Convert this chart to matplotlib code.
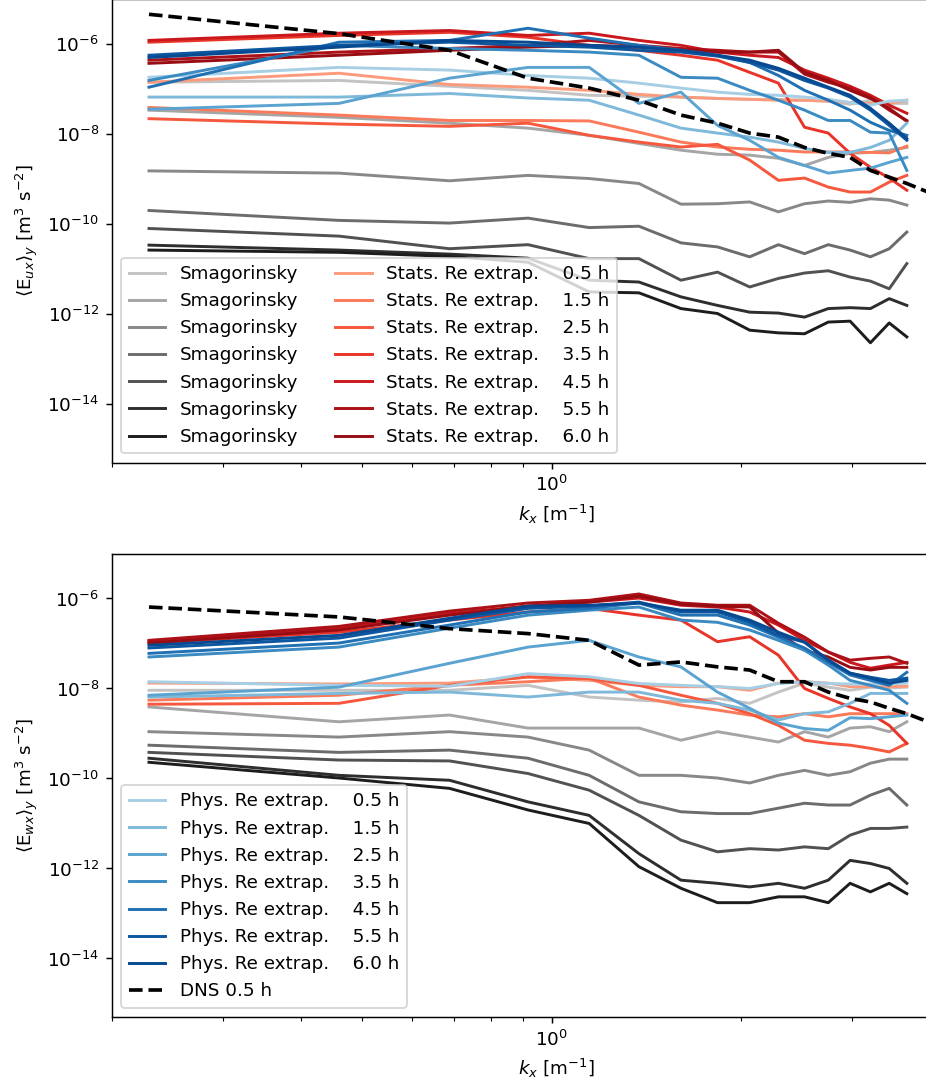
import matplotlib
matplotlib.use("Agg")
import matplotlib.pyplot as plt
import numpy as np

# wavenumbers (LES grid) and the DNS spectrum, which runs a bit further
k = [0.229, 0.459, 0.688, 0.917, 1.147, 1.376, 1.605, 1.835,
     2.064, 2.293, 2.523, 2.752, 2.981, 3.211, 3.440, 3.669]
k_dns = k + [3.898, 4.128]

times = [0.5, 1.5, 2.5, 3.5, 4.5, 5.5, 6.0]

# spectra, stored as log10 of <E>_y
ux_smag = [
    [-6.85, -6.81, -6.94, -7.03, -7.14, -7.16, -7.18, -7.21, -7.23, -7.23, -7.25, -7.27, -7.34, -7.25, -7.32, -7.32],
    [-7.47, -7.63, -7.76, -7.87, -8.03, -8.21, -8.36, -8.45, -8.47, -8.54, -8.70, -8.52, -8.43, -8.41, -8.36, -8.30],
    [-8.82, -8.87, -9.04, -8.92, -8.99, -9.10, -9.56, -9.55, -9.51, -9.73, -9.55, -9.49, -9.52, -9.44, -9.47, -9.58],
    [-9.70, -9.92, -9.98, -9.87, -10.08, -10.05, -10.42, -10.51, -10.73, -10.46, -10.66, -10.46, -10.58, -10.73, -10.55, -10.18],
    [-10.10, -10.27, -10.55, -10.46, -10.77, -10.77, -11.25, -11.07, -11.40, -11.21, -11.09, -11.04, -11.18, -11.27, -11.44, -10.88],
    [-10.47, -10.58, -10.67, -10.76, -11.25, -11.29, -11.62, -11.81, -11.96, -11.98, -12.07, -11.88, -11.86, -11.88, -11.66, -11.81],
    [-10.58, -10.63, -10.72, -10.85, -11.51, -11.53, -11.88, -11.99, -12.36, -12.42, -12.44, -12.18, -12.16, -12.64, -12.20, -12.51],
]
ux_stats = [
    [-6.85, -6.65, -6.90, -6.96, -7.03, -7.12, -7.18, -7.21, -7.23, -7.25, -7.25, -7.27, -7.30, -7.32, -7.32, -7.25],
    [-7.41, -7.58, -7.70, -7.70, -7.71, -7.96, -8.18, -8.29, -8.34, -8.36, -8.40, -8.40, -8.40, -8.41, -8.42, -8.27],
    [-7.66, -7.78, -7.83, -7.76, -8.03, -8.18, -8.29, -8.23, -8.58, -9.03, -8.98, -9.18, -9.29, -9.29, -9.07, -8.92],
    [-5.96, -5.81, -5.74, -5.85, -6.03, -6.14, -6.25, -6.36, -6.63, -6.87, -7.85, -7.98, -8.43, -8.74, -8.98, -9.25],
    [-5.92, -5.76, -5.70, -5.81, -5.76, -5.92, -6.03, -6.18, -6.25, -6.30, -6.58, -6.76, -6.94, -7.14, -7.36, -7.54],
    [-6.36, -6.18, -6.10, -6.03, -5.92, -6.03, -6.10, -6.14, -6.18, -6.18, -6.67, -6.85, -6.98, -7.18, -7.47, -7.70],
    [-6.43, -6.25, -6.14, -6.07, -6.03, -6.07, -6.14, -6.18, -6.18, -6.14, -6.63, -6.81, -7.03, -7.21, -7.43, -7.72],
]
ux_phys = [
    [-6.74, -6.52, -6.58, -6.70, -6.76, -6.87, -6.98, -7.07, -7.12, -7.14, -7.18, -7.23, -7.30, -7.36, -7.27, -7.25],
    [-7.18, -7.18, -7.10, -7.20, -7.25, -7.58, -7.87, -7.98, -8.07, -8.18, -8.32, -8.41, -8.41, -8.30, -8.14, -7.76],
    [-7.45, -7.32, -6.76, -6.52, -6.52, -7.32, -7.07, -7.81, -8.14, -8.52, -8.70, -8.87, -8.81, -8.76, -8.63, -8.52],
    [-6.81, -6.03, -6.10, -6.14, -6.18, -6.25, -6.74, -6.76, -7.03, -7.25, -7.47, -7.70, -7.70, -7.96, -7.98, -8.81],
    [-6.96, -5.96, -5.92, -5.65, -5.87, -6.03, -6.14, -6.25, -6.41, -6.70, -7.03, -7.25, -7.47, -7.74, -7.92, -8.03],
    [-6.25, -6.03, -5.96, -6.03, -6.07, -6.14, -6.18, -6.27, -6.41, -6.58, -6.81, -6.98, -7.18, -7.47, -7.81, -8.14],
    [-6.30, -6.07, -5.92, -5.96, -6.03, -6.07, -6.14, -6.25, -6.36, -6.54, -6.76, -6.96, -7.14, -7.43, -7.76, -8.10],
]
ux_dns = [-5.34, -5.77, -6.14, -6.76, -6.98, -7.25, -7.58, -7.76, -7.98,
          -8.07, -8.30, -8.43, -8.52, -8.81, -8.96, -9.10, -9.25, -9.38]

wx_smag = [
    [-8.04, -8.04, -8.04, -7.93, -8.19, -8.26, -8.30, -8.22, -8.33, -8.08, -7.88, -7.97, -8.04, -7.97, -7.99, -7.97],
    [-8.41, -8.74, -8.59, -8.88, -8.88, -8.88, -9.15, -8.96, -9.08, -9.19, -8.96, -9.08, -8.88, -8.85, -8.96, -8.74],
    [-8.96, -9.08, -8.96, -9.08, -9.37, -9.93, -9.93, -9.99, -10.10, -9.93, -9.82, -9.93, -9.85, -9.66, -9.57, -9.57],
    [-9.26, -9.42, -9.37, -9.55, -9.93, -10.52, -10.74, -10.78, -10.78, -10.66, -10.55, -10.59, -10.59, -10.37, -10.22, -10.59],
    [-9.42, -9.59, -9.61, -9.89, -10.26, -10.82, -11.37, -11.63, -11.56, -11.59, -11.52, -11.56, -11.26, -11.11, -11.11, -11.08],
    [-9.55, -9.93, -10.04, -10.52, -10.82, -11.67, -12.26, -12.33, -12.41, -12.33, -12.44, -12.26, -11.82, -11.89, -12.00, -12.33],
    [-9.64, -9.99, -10.22, -10.70, -11.00, -11.96, -12.44, -12.76, -12.76, -12.63, -12.63, -12.76, -12.33, -12.52, -12.33, -12.56],
]
wx_stats = [
    [-7.88, -7.90, -7.88, -7.75, -7.82, -7.93, -7.96, -7.96, -8.04, -7.88, -7.85, -7.88, -7.96, -7.96, -7.96, -7.95],
    [-8.26, -8.15, -7.93, -7.85, -7.77, -8.19, -8.37, -8.48, -8.59, -8.63, -8.56, -8.63, -8.56, -8.56, -8.56, -8.56],
    [-8.35, -8.33, -7.93, -7.74, -7.78, -7.93, -8.15, -8.33, -8.56, -8.82, -9.15, -9.22, -9.26, -9.33, -9.41, -9.22],
    [-6.99, -6.75, -6.48, -6.30, -6.22, -6.37, -6.48, -6.96, -6.85, -7.26, -8.00, -8.22, -8.41, -8.56, -8.82, -9.22],
    [-6.95, -6.66, -6.33, -6.17, -6.08, -5.99, -6.15, -6.19, -6.30, -6.59, -6.93, -7.19, -7.42, -7.55, -7.48, -7.42],
    [-6.93, -6.62, -6.28, -6.10, -6.04, -5.90, -6.10, -6.15, -6.15, -6.55, -6.86, -7.19, -7.37, -7.33, -7.30, -7.44],
    [-6.99, -6.70, -6.37, -6.17, -6.08, -5.95, -6.13, -6.17, -6.19, -6.77, -7.15, -7.30, -7.53, -7.59, -7.53, -7.53],
]
wx_phys = [
    [-7.85, -7.93, -7.95, -7.67, -7.74, -7.89, -7.93, -7.96, -8.00, -7.89, -7.85, -7.89, -7.90, -7.90, -7.90, -7.88],
    [-8.19, -8.11, -8.08, -8.19, -8.08, -8.08, -8.26, -8.33, -8.48, -8.70, -8.56, -8.52, -8.33, -8.11, -8.11, -8.11],
    [-8.15, -7.97, -7.44, -7.08, -6.93, -7.30, -7.52, -8.08, -8.44, -8.77, -8.89, -8.93, -8.65, -8.67, -8.63, -8.59],
    [-7.30, -7.08, -6.66, -6.37, -6.26, -6.19, -6.48, -6.53, -6.70, -6.93, -7.15, -7.48, -7.82, -7.93, -8.04, -8.33],
    [-7.22, -6.99, -6.59, -6.30, -6.22, -6.10, -6.37, -6.37, -6.59, -6.86, -7.10, -7.42, -7.70, -7.82, -7.93, -7.64],
    [-7.10, -6.88, -6.48, -6.22, -6.17, -6.08, -6.30, -6.30, -6.53, -6.82, -6.97, -7.37, -7.66, -7.75, -7.82, -7.77],
    [-7.04, -6.82, -6.44, -6.17, -6.15, -6.10, -6.26, -6.26, -6.48, -6.75, -6.97, -7.37, -7.66, -7.77, -7.88, -7.82],
]
wx_dns = [-6.19, -6.41, -6.67, -6.78, -6.93, -7.48, -7.41, -7.52, -7.59,
          -7.85, -7.85, -8.08, -8.22, -8.30, -8.44, -8.56, -8.70, -8.84]


def spectra(ax, smag, stats, phys, dns, ylabel):
    h_smag, h_stats, h_phys = [], [], []
    for t, e in zip(times, smag):
        l, = ax.plot(k, 10.0 ** np.array(e), color=plt.cm.Greys(0.3 + 0.1 * t), lw=1.6, label="Smagorinsky")
        h_smag.append(l)
    for t, e in zip(times, stats):
        l, = ax.plot(k, 10.0 ** np.array(e), color=plt.cm.Reds(0.3 + 0.1 * t), lw=1.6, label=f"Stats. Re extrap.    {t} h")
        h_stats.append(l)
    for t, e in zip(times, phys):
        l, = ax.plot(k, 10.0 ** np.array(e), color=plt.cm.Blues(0.3 + 0.1 * t), lw=1.6, label=f"Phys. Re extrap.    {t} h")
        h_phys.append(l)
    h_dns, = ax.plot(k_dns, 10.0 ** np.array(dns), "k--", lw=2, label="DNS 0.5 h")
    ax.set_xscale("log")
    ax.set_yscale("log")
    ax.set_xlim(0.2, 5.16)
    ax.set_ylim(5.0e-16, 1.0e-5)
    ax.set_yticks([1e-14, 1e-12, 1e-10, 1e-8, 1e-6])
    ax.yaxis.set_minor_locator(matplotlib.ticker.NullLocator())
    ax.set_xlabel(r"$k_x$ [m$^{-1}$]")
    ax.set_ylabel(ylabel)
    return h_smag, h_stats, h_phys, h_dns


fig = plt.figure(figsize=(926 / 132, 1092 / 132), dpi=132)
ax1 = fig.add_axes([112 / 926, (1092 - 462.5) / 1092, 888 / 926, 463.5 / 1092])
ax2 = fig.add_axes([112 / 926, (1092 - 1017) / 1092, 888 / 926, 463.5 / 1092])

hs, hst, hp, hd = spectra(ax1, ux_smag, ux_stats, ux_phys, ux_dns,
                          r"$\langle \mathrm{E}_{ux} \rangle_y$ [m$^3$ s$^{-2}$]")
ax1.legend(handles=hs + hst, ncol=2, loc="lower left")

hs, hst, hp, hd = spectra(ax2, wx_smag, wx_stats, wx_phys, wx_dns,
                          r"$\langle \mathrm{E}_{wx} \rangle_y$ [m$^3$ s$^{-2}$]")
ax2.legend(handles=hp + [hd], loc="lower left")

fig.savefig("out.png", dpi=132)
